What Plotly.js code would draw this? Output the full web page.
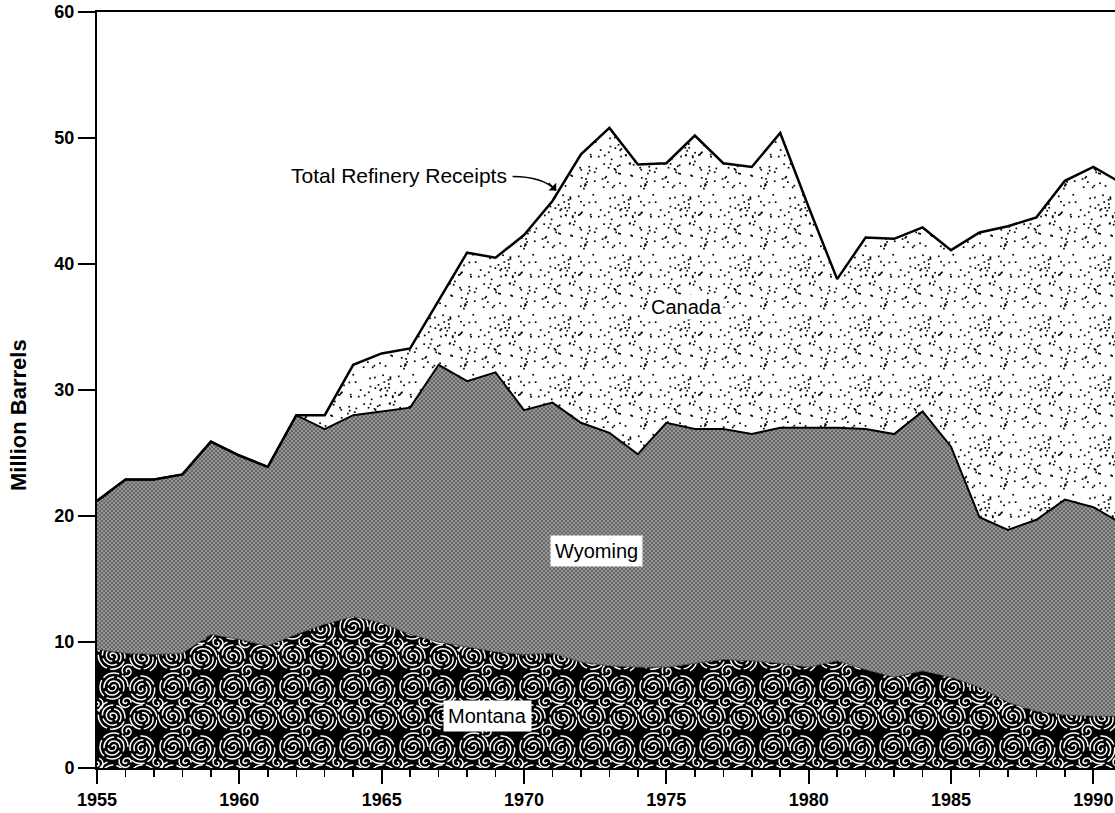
<!DOCTYPE html>
<html>
<head>
<meta charset="utf-8">
<script src="https://cdn.plot.ly/plotly-3.0.1.min.js"></script>
<style>
html,body{margin:0;padding:0;background:#fff;}
#chart{width:1115px;height:813px;}
</style>
</head>
<body>
<div id="chart"></div>
<script>
// ---- data (million barrels) ----
const years = [1955,1956,1957,1958,1959,1960,1961,1962,1963,1964,1965,1966,1967,1968,1969,1970,1971,1972,1973,1974,1975,1976,1977,1978,1979,1980,1981,1982,1983,1984,1985,1986,1987,1988,1989,1990,1991];
const montana = [9.4,9.1,9.0,9.1,10.6,10.2,9.7,10.6,11.4,12.0,11.5,10.6,10.0,9.6,9.2,9.0,9.1,8.4,8.1,8.0,8.0,8.3,8.6,8.5,8.3,8.0,8.5,7.8,7.2,7.7,7.2,6.4,5.2,4.5,4.2,4.1,4.1];
const wyoming = [11.8,13.8,13.9,14.2,15.3,14.6,14.2,17.4,15.5,16.0,16.8,18.0,22.0,21.1,22.2,19.4,19.9,19.0,18.5,16.9,19.4,18.6,18.3,18.0,18.7,19.0,18.5,19.1,19.3,20.6,18.3,13.5,13.7,15.2,17.1,16.6,15.3];
const canada = [0,0,0,0,0,0,0,0,1.1,4.0,4.6,4.7,5.1,10.2,9.1,13.9,16.0,21.3,24.2,23.0,20.6,23.3,21.1,21.2,23.4,17.5,11.8,15.2,15.5,14.6,15.6,22.6,24.1,24.0,25.3,27.0,27.0];
const seriesNames = ['Montana','Wyoming','Canada'];
const fillColors = ['rgb(17, 17, 17)', 'rgb(106, 106, 106)', 'rgb(242, 242, 242)'];
const xTickVals = [1955,1960,1965,1970,1975,1980,1985,1990];
const yTickVals = [0,10,20,30,40,50,60];

const FONT = 'Liberation Sans, Arial, Helvetica, sans-serif';

const data = [
  {x: years, y: montana, name: seriesNames[0], type: 'scatter', mode: 'lines', stackgroup: 'one',
   line: {color: '#000', width: 0.5}, fillcolor: fillColors[0]},
  {x: years, y: wyoming, name: seriesNames[1], type: 'scatter', mode: 'lines', stackgroup: 'one',
   line: {color: '#000', width: 2}, fillcolor: fillColors[1]},
  {x: years, y: canada, name: seriesNames[2], type: 'scatter', mode: 'lines', stackgroup: 'one',
   line: {color: '#000', width: 2.5}, fillcolor: fillColors[2]}
];

const layout = {
  width: 1115, height: 813,
  margin: {l: 97, r: 0, t: 12, b: 45, pad: 0},
  paper_bgcolor: '#fff', plot_bgcolor: '#fff',
  showlegend: false,
  font: {family: FONT, color: '#000'},
  xaxis: {
    range: [1955, 1990.76], tickmode: 'array', tickvals: xTickVals, ticktext: xTickVals.map(String),
    ticks: 'outside', ticklen: 14, tickwidth: 2, tickcolor: '#000',
    showline: true, linewidth: 2, linecolor: '#000', mirror: true,
    showgrid: false, zeroline: false,
    tickfont: {family: FONT, size: 18, weight: 'bold', color: '#000'},
    minor: {tickmode: 'linear', tick0: 1955, dtick: 1, ticks: 'outside', ticklen: 7, tickwidth: 1.5, tickcolor: '#000', showgrid: false}
  },
  yaxis: {
    range: [0, 60], tickmode: 'array', tickvals: yTickVals, ticktext: yTickVals.map(String),
    ticks: 'outside', ticklen: 17, tickwidth: 2, tickcolor: '#000',
    showline: true, linewidth: 2, linecolor: '#000', mirror: false,
    showgrid: false, zeroline: false,
    tickfont: {family: FONT, size: 18, weight: 'bold', color: '#000'}
  },
  shapes: [
    {type: 'path', xref: 'x', yref: 'y', path: 'M1969.6,46.95 Q1970.66,46.95 1971.13,45.84',
     line: {color: '#000', width: 1.6}, layer: 'above'}
  ],
  annotations: [
    {text: 'Million Barrels', xref: 'paper', yref: 'paper', x: -0.0766, y: 0.467, textangle: -90,
     showarrow: false, xanchor: 'center', yanchor: 'middle', font: {family: FONT, size: 22, weight: 'bold'}},
    {text: 'Total Refinery Receipts', xref: 'x', yref: 'y', x: 1965.6, y: 47.0, showarrow: false,
     xanchor: 'center', yanchor: 'middle', font: {family: FONT, size: 21}},
    {text: '', xref: 'x', yref: 'y', x: 1971.13, y: 45.84, ax: -9, ay: -9, showarrow: true,
     arrowhead: 1, arrowsize: 1.2, arrowwidth: 1.5, arrowcolor: '#000'},
    {text: 'Canada', xref: 'x', yref: 'y', x: 1975.71, y: 36.6, showarrow: false,
     xanchor: 'center', yanchor: 'middle', font: {family: FONT, size: 20}, bgcolor: '#fff', borderpad: 1},
    {text: 'Wyoming', xref: 'x', yref: 'y', x: 1972.53, y: 17.25, showarrow: false,
     xanchor: 'center', yanchor: 'middle', font: {family: FONT, size: 20}, bgcolor: '#fff', borderpad: 4},
    {text: 'Montana', xref: 'x', yref: 'y', x: 1968.72, y: 4.15, showarrow: false,
     xanchor: 'center', yanchor: 'middle', font: {family: FONT, size: 20}, bgcolor: '#fff', borderpad: 4}
  ]
};

function spiralPath(cx, cy, n, s) {
  let d = 'M' + cx + ',' + cy;
  for (let k = 1; k <= n; k++) {
    const r = k * s;
    const dx = (k % 2 ? 1 : -1) * 2 * k * s;
    d += ' a' + r + ',' + r + ' 0 0 1 ' + dx + ',0';
  }
  return d;
}

function hash(i) {
  const v = Math.sin(i * 127.1 + 311.7) * 43758.5453;
  return v - Math.floor(v);
}

function addPatterns(gd) {
  const NS = 'http://www.w3.org/2000/svg';
  const svg = gd.querySelector('svg.main-svg');
  let defs = svg.querySelector('defs');
  if (!defs) { defs = document.createElementNS(NS, 'defs'); svg.insertBefore(defs, svg.firstChild); }
  function el(tag, attrs, parent) {
    const e = document.createElementNS(NS, tag);
    for (const k in attrs) e.setAttribute(k, attrs[k]);
    if (parent) parent.appendChild(e);
    return e;
  }
  // Montana: white swirls on black
  const T = 60;
  const pm = el('pattern', {id: 'patMontana', patternUnits: 'userSpaceOnUse', width: T, height: T}, defs);
  el('rect', {x: 0, y: 0, width: T, height: T, fill: '#000'}, pm);
  [[15,15,0,7],[45,16,130,7],[16,45,250,7],[45,45,60,7],[30,30,200,3],[0,30,90,3],[60,30,90,3],[30,0,310,3],[30,60,310,3]].forEach(function (c) {
    el('path', {d: spiralPath(c[0], c[1], c[3], 2.0), fill: 'none', stroke: '#fff', 'stroke-width': 1.5,
      'stroke-dasharray': '17 3', transform: 'rotate(' + c[2] + ' ' + c[0] + ' ' + c[1] + ')'}, pm);
  });
  // Wyoming: low-contrast halftone (avoids moire)
  const pw = el('pattern', {id: 'patWyoming', patternUnits: 'userSpaceOnUse', width: 4, height: 4}, defs);
  el('rect', {x: 0, y: 0, width: 4, height: 4, fill: '#979797'}, pw);
  el('rect', {x: 0, y: 0, width: 2, height: 2, fill: '#666'}, pw);
  el('rect', {x: 2, y: 2, width: 2, height: 2, fill: '#666'}, pw);
  // Canada: scattered dots (fixed hashed positions)
  const C = 60;
  const pc = el('pattern', {id: 'patCanada', patternUnits: 'userSpaceOnUse', width: C, height: C}, defs);
  el('rect', {x: 0, y: 0, width: C, height: C, fill: '#fff'}, pc);
  for (let i = 0; i < 80; i++) {
    const x = hash(i) * (C - 2);
    const y = hash(i + 1000) * (C - 2);
    el('rect', {x: x.toFixed(1), y: y.toFixed(1), width: 1.7, height: 1.7, fill: '#000'}, pc);
  }
  const ids = ['patMontana', 'patWyoming', 'patCanada'];
  const norm = function (s) { return (s || '').replace(/\s+/g, ''); };
  gd.querySelectorAll('.scatterlayer path.js-fill').forEach(function (f) {
    const c = norm(f.style.fill);
    for (let i = 0; i < fillColors.length; i++) {
      if (c === norm(fillColors[i])) { f.style.fill = 'url(#' + ids[i] + ')'; break; }
    }
  });
}

Plotly.newPlot('chart', data, layout, {staticPlot: true, displayModeBar: false}).then(addPatterns);
</script>
</body>
</html>
